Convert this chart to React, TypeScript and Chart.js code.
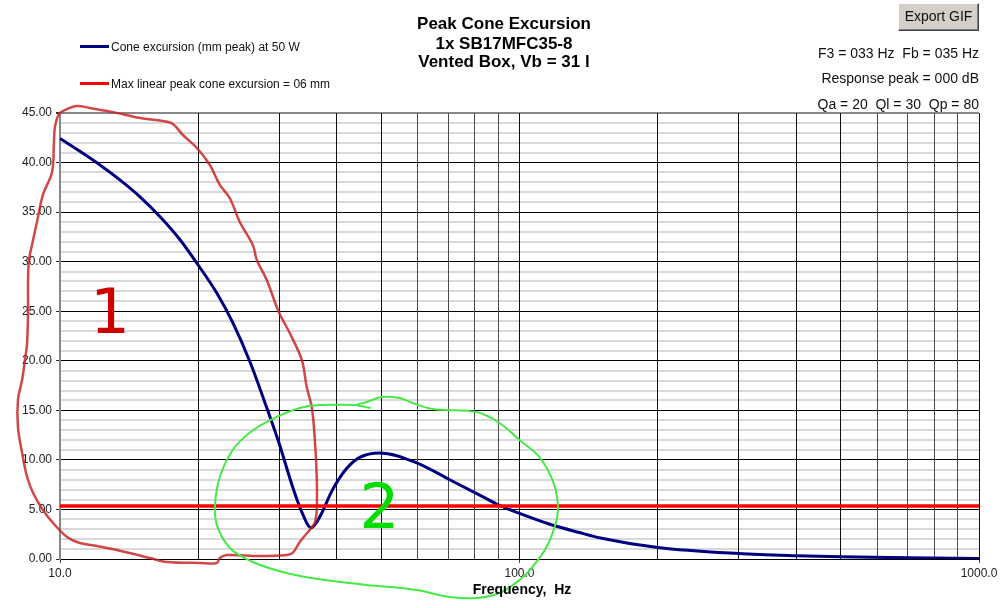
import { useEffect, useRef } from 'react';
import { Chart, registerables } from 'chart.js';

Chart.register(...registerables);

const FONT = '"Liberation Sans", Arial, sans-serif';

// Cone excursion curve (mm peak) at 50 W
const excursionFreqHz = [10, 11.05, 12.22, 13.5, 14.93, 16.49, 18.23, 20, 21.94, 23.77, 25.9, 28.18, 30, 32.1, 33.6, 35.2, 36.7, 39.2, 42, 44.9, 49.6, 59.7, 70.5, 83.1, 90.5, 100, 116, 135, 150, 200, 300, 400, 500, 700, 1000];
const excursionMm = [42.43, 41.14, 39.76, 38.25, 36.54, 34.56, 32.24, 29.64, 26.83, 23.84, 19.9, 15.26, 11.62, 7.24, 4.72, 3.15, 4.2, 7.0, 9.1, 10.25, 10.7, 9.7, 8.0, 6.3, 5.4, 4.6, 3.53, 2.67, 2.12, 1.16, 0.55, 0.33, 0.22, 0.12, 0.06];

// Max linear excursion line
const xmaxFreqHz = [10, 1000];
const xmaxMm = [5.35, 5.35];

// Hand-drawn annotation "1" (red loop)
const redLoopFreqHz = [34.95, 35.83, 36.2, 36.2, 35.83, 35.3, 34.43, 33.59, 31.62, 29.93, 28.18, 26.81, 26.28, 24.62, 23.42, 22.28, 21.19, 19.86, 18.51, 17.61, 16.75, 14.93, 13.04, 11.62, 10.89, 10.36, 9.95, 9.75, 9.7, 9.61, 9.18, 8.91, 8.69, 8.56, 8.52, 8.52, 8.48, 8.39, 8.27, 8.1, 8.1, 8.27, 8.48, 8.74, 9.18, 9.66, 10.36, 11.05, 12.04, 13.3, 15.69, 17.09, 20.15, 21.94, 22.28, 23.07, 27.21, 31.15, 32.1, 33.25, 34.95];
const redLoopMm = [2.93, 3.63, 4.94, 8.27, 12.31, 15.34, 17.35, 20.08, 22.8, 24.92, 28.15, 30.17, 31.68, 34.0, 36.4, 37.74, 39.75, 41.47, 42.78, 43.89, 44.19, 44.5, 45.09, 45.5, 45.71, 45.4, 44.89, 43.59, 41.97, 39.05, 36.73, 34.0, 31.68, 30.17, 28.15, 25.12, 21.79, 20.08, 18.06, 16.04, 13.32, 10.7, 8.27, 6.66, 4.94, 3.63, 2.22, 1.61, 1.31, 0.91, 0.1, -0.3, -0.4, -0.4, 0.1, 0.4, 0.3, 0.4, 0.61, 1.72, 2.93];

// Hand-drawn annotation "2" (green loop with arrow)
const greenLoopFreqHz = [44.01, 36.75, 33.25, 29.63, 26.15, 23.77, 22.28, 21.73, 22.06, 23.54, 26.28, 30.53, 36.38, 46.5, 59.71, 70.44, 80.65, 90.48, 100, 106.7, 114.5, 120.4, 121.0, 118.0, 110.5, 100, 90.48, 80.65, 64.71, 58.53, 54.84, 50.12, 47.2, 44.01];
const greenLoopMm = [15.54, 15.54, 15.24, 14.33, 12.91, 11.0, 8.27, 5.25, 3.13, 1.01, -0.3, -1.31, -2.02, -2.62, -3.13, -3.83, -3.94, -3.43, -2.12, -0.81, 1.21, 3.94, 5.95, 7.97, 10.29, 12.01, 13.72, 14.83, 15.13, 15.74, 16.24, 16.35, 15.94, 15.54];
const greenBarbFreqHz = [47.44, 44.01];
const greenBarbMm = [15.24, 15.54];

const xTickValues = [10, 20, 30, 40, 50, 60, 70, 80, 90, 100, 200, 300, 400, 500, 600, 700, 800, 900, 1000];
const xDecadeLabels: Record<number, string> = { 10: '10.0', 100: '100.0', 1000: '1000.0' };
const yMin = 0;
const yMax = 45;
const yMajorStep = 5;

const titleLines = ['Peak Cone Excursion', '1x SB17MFC35-8', 'Vented Box, Vb = 31 l'];
const legendItems = [
  { label: 'Cone excursion (mm peak) at 50 W', color: '#000080' },
  { label: 'Max linear peak cone excursion = 06 mm', color: '#ff0000' },
];
const infoLines = ['F3 = 033 Hz  Fb = 035 Hz', 'Response peak = 000 dB', 'Qa = 20  Ql = 30  Qp = 80'];
const annotationLabels = [
  { text: '1', color: '#cc0000', freq: 12.85, mm: 22.8 },
  { text: '2', color: '#00dd00', freq: 49.6, mm: 3.1 },
];

const pts = (xs: number[], ys: number[]) => xs.map((x, i) => ({ x, y: ys[i] }));

const labelPlugin = {
  id: 'handLabels',
  afterDatasetsDraw(chart: any) {
    const { ctx, scales } = chart;
    ctx.save();
    ctx.font = '63px "DejaVu Sans", sans-serif';
    ctx.textAlign = 'center';
    ctx.textBaseline = 'alphabetic';
    for (const l of annotationLabels) {
      ctx.fillStyle = l.color;
      ctx.fillText(l.text, scales.x.getPixelForValue(l.freq), scales.y.getPixelForValue(l.mm));
    }
    ctx.restore();
  },
};

export default function App() {
  const ref = useRef<HTMLCanvasElement | null>(null);

  useEffect(() => {
    if (!ref.current) return;
    const yTicks: number[] = [];
    for (let v = yMin; v <= yMax; v++) yTicks.push(v);

    const chart = new Chart(ref.current, {
      type: 'line',
      data: {
        datasets: [
          {
            data: pts(greenBarbFreqHz, greenBarbMm),
            borderColor: 'rgb(70,232,70)',
            borderWidth: 2,
            tension: 0,
            clip: false as any,
            pointRadius: 0,
          },
          {
            data: pts(greenLoopFreqHz, greenLoopMm),
            borderColor: 'rgb(70,232,70)',
            borderWidth: 2,
            tension: 0.35,
            clip: false as any,
            pointRadius: 0,
          },
          {
            data: pts(redLoopFreqHz, redLoopMm),
            borderColor: 'rgba(200,30,30,0.82)',
            borderWidth: 2.5,
            tension: 0.35,
            clip: false as any,
            pointRadius: 0,
          },
          {
            data: pts(xmaxFreqHz, xmaxMm),
            borderColor: '#ff0000',
            borderWidth: 3.5,
            tension: 0,
            pointRadius: 0,
          },
          {
            data: pts(excursionFreqHz, excursionMm),
            borderColor: '#000080',
            borderWidth: 3,
            cubicInterpolationMode: 'monotone',
            pointRadius: 0,
          },
        ],
      },
      options: {
        responsive: false,
        animation: false,
        layout: { padding: { left: 0, right: 27, top: 113, bottom: 0 } },
        elements: { point: { radius: 0 }, line: { capBezierPoints: false } },
        plugins: {
          legend: { display: false },
          title: { display: false },
          tooltip: { enabled: false },
        },
        scales: {
          x: {
            type: 'logarithmic',
            min: 10,
            max: 1000,
            afterBuildTicks: (s: any) => {
              s.ticks = xTickValues.map((v) => ({ value: v }));
            },
            afterFit: (s: any) => {
              s.height = 49;
              s.paddingLeft = 0;
              s.paddingRight = 0;
            },
            ticks: {
              autoSkip: false,
              maxRotation: 0,
              minRotation: 0,
              padding: 3,
              color: '#222',
              font: { size: 12, family: FONT },
              callback: (v: any) => xDecadeLabels[Number(v)] ?? '',
            },
            grid: {
              z: -1,
              color: (c: any) => {
                const v = c.tick?.value;
                if (v === 10) return '#888';
                const lead = v / Math.pow(10, Math.floor(Math.log10(v) + 1e-9));
                return lead >= 5.5 ? '#4a4a4a' : '#111';
              },
              lineWidth: 1,
              tickLength: 4,
              tickColor: (c: any) => (xDecadeLabels[c.tick?.value] ? '#444' : 'rgba(0,0,0,0)'),
            },
            border: { color: '#000', width: 1 },
          },
          y: {
            type: 'linear',
            min: yMin,
            max: yMax,
            afterBuildTicks: (s: any) => {
              s.ticks = yTicks.map((v) => ({ value: v }));
            },
            afterFit: (s: any) => {
              s.width = 60;
              s.paddingTop = 0;
              s.paddingBottom = 0;
            },
            ticks: {
              autoSkip: false,
              padding: 4,
              color: '#222',
              font: { size: 12, family: FONT },
              callback: (v: any) => (Number(v) % yMajorStep === 0 ? Number(v).toFixed(2) : ''),
            },
            grid: {
              z: -2,
              color: (c: any) => {
                const v = c.tick?.value;
                if (v === yMax) return '#888';
                return v % yMajorStep === 0 ? '#000' : '#d9d9d9';
              },
              lineWidth: (c: any) => {
                const v = c.tick?.value;
                if (v === yMax) return 2;
                return v % yMajorStep === 0 ? 1 : 2;
              },
              tickLength: 4,
              tickColor: (c: any) => (c.tick?.value % yMajorStep === 0 ? '#333' : 'rgba(0,0,0,0)'),
            },
            border: { color: '#888', width: 2 },
          },
        },
      },
      plugins: [labelPlugin],
    } as any);

    return () => chart.destroy();
  }, []);

  const titleCenters = [24, 43.5, 62];
  const infoCenters = [53, 77.5, 104];
  const legendCenters = [46.5, 83.5];

  return (
    <div
      style={{
        position: 'fixed',
        left: 0,
        top: 0,
        width: 1006,
        height: 608,
        background: '#fff',
        overflow: 'hidden',
        fontFamily: FONT,
        color: '#000',
      }}
    >
      <canvas ref={ref} width={1006} height={608} style={{ position: 'absolute', left: 0, top: 0, width: 1006, height: 608 }} />

      {titleLines.map((t, i) => (
        <div
          key={t}
          style={{
            position: 'absolute',
            left: 0,
            width: 1008,
            top: titleCenters[i] - 10,
            lineHeight: '20px',
            fontSize: 17,
            fontWeight: 'bold',
            textAlign: 'center',
            whiteSpace: 'pre',
          }}
        >
          {t}
        </div>
      ))}

      {legendItems.map((it, i) => (
        <div key={it.label}>
          <div
            style={{
              position: 'absolute',
              left: 80,
              top: legendCenters[i] - 1.5,
              width: 29,
              height: 3,
              background: it.color,
            }}
          />
          <div
            style={{
              position: 'absolute',
              left: 111,
              top: legendCenters[i] - 8,
              lineHeight: '16px',
              fontSize: 12,
              whiteSpace: 'pre',
              color: '#111',
            }}
          >
            {it.label}
          </div>
        </div>
      ))}

      {infoLines.map((t, i) => (
        <div
          key={t}
          style={{
            position: 'absolute',
            right: 27,
            top: infoCenters[i] - 9,
            lineHeight: '18px',
            fontSize: 14,
            textAlign: 'right',
            whiteSpace: 'pre',
            color: '#111',
          }}
        >
          {t}
        </div>
      ))}

      <div
        style={{
          position: 'absolute',
          left: 898,
          top: 3,
          width: 81,
          height: 28,
          boxSizing: 'border-box',
          background: '#d4d0c8',
          borderTop: '1px solid #ffffff',
          borderLeft: '1px solid #ffffff',
          borderRight: '1px solid #404040',
          borderBottom: '1px solid #404040',
          boxShadow: 'inset -1px -1px #808080',
          textAlign: 'center',
          fontSize: 14,
          lineHeight: '24px',
          color: '#111',
        }}
      >
        Export GIF
      </div>

      <div
        style={{
          position: 'absolute',
          left: 0,
          width: 1044,
          top: 589 - 9,
          lineHeight: '18px',
          fontSize: 14,
          fontWeight: 'bold',
          textAlign: 'center',
          whiteSpace: 'pre',
        }}
      >
        {'Frequency,  Hz'}
      </div>
    </div>
  );
}
